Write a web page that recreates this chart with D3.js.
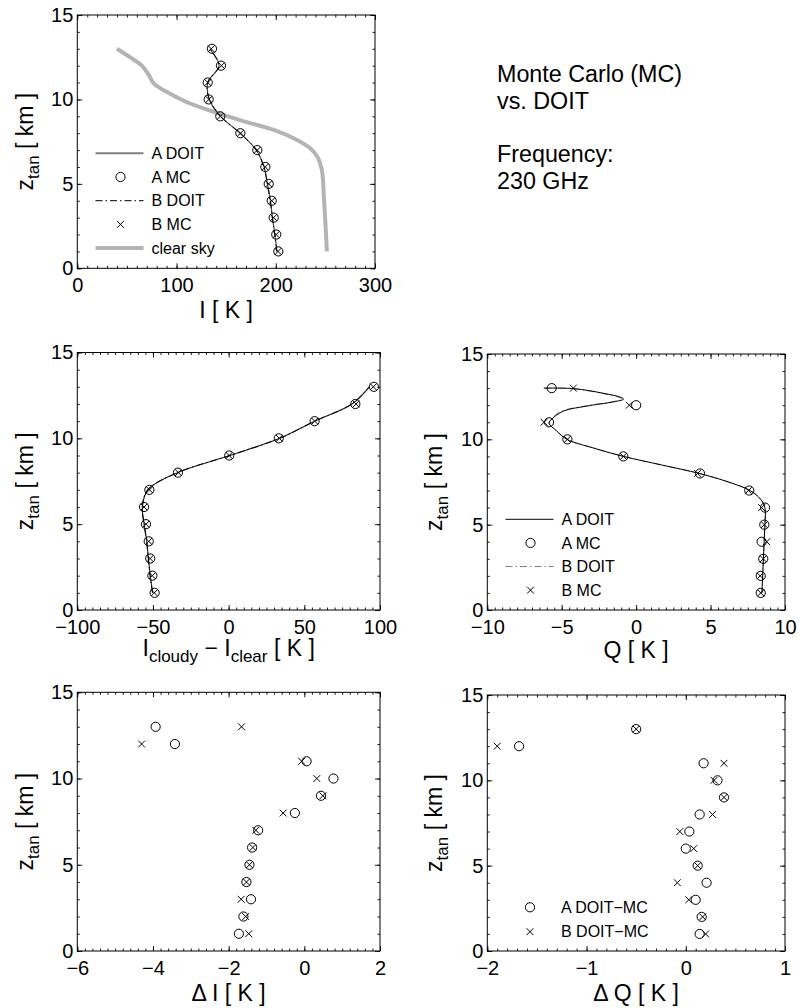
<!DOCTYPE html>
<html>
<head>
<meta charset="utf-8">
<script src="https://cdn.jsdelivr.net/npm/d3@7"></script>
<style>
  html, body { margin: 0; padding: 0; background: #fff; }
  svg { display: block; font-family: "Liberation Sans", Arial, Helvetica, sans-serif; }
</style>
</head>
<body>
<script>
// Tangent altitudes (km) of the simulated limb views
const zLevels = [1, 2, 3, 4, 5, 6, 7, 8, 9, 10, 11, 12, 13];

// Panel: cloudy-sky brightness temperature I [K]
const iMcA   = [202.6, 200.5, 197.9, 195.9, 192.9, 189.5, 181.4, 164.3, 144.1, 132.4, 131.4, 144.8, 135.7];
const iMcB   = [202.3, 200.4, 197.8, 196.0, 192.9, 189.4, 181.4, 164.5, 144.1, 132.6, 131.5, 145.3, 135.0];
const iDoitA = [201.2, 199.1, 196.7, 194.6, 191.6, 188.2, 180.4, 164.1, 144.4, 133.0, 131.5, 142.8, 133.5];
const iDoitB = [201.0, 199.0, 196.5, 194.5, 191.5, 188.1, 180.2, 164.0, 144.5, 133.1, 131.4, 142.6, 133.4];
// Clear-sky reference profile
const clearSkyZ = [13, 12.5, 12, 11.45, 10.95, 10.45, 9.85, 9.2, 8.7, 8.2, 7.7, 7.1, 6.6, 5.8, 4.2, 2.7, 1];
const clearSkyI = [40, 53, 65, 72, 77, 90, 110, 141, 168, 198, 218, 235, 242, 246.5, 248.5, 250, 251.5];

// Panel: I_cloudy - I_clear [K]
const dCloudMcA   = [-48.9, -50.4, -51.8, -52.8, -54.6, -55.9, -52.4, -33.5, 0.4, 33.1, 56.8, 83.7, 96.0];
const dCloudMcB   = [-49.1, -50.5, -51.9, -52.8, -54.6, -55.9, -52.3, -33.2, 0.3, 33.5, 56.9, 84.2, 95.6];
const dCloudDoitA = [-50.2, -51.8, -53.0, -54.1, -55.8, -57.0, -53.4, -33.8, 0.7, 33.7, 56.9, 81.5, 93.0];
const dCloudDoitB = [-50.3, -51.9, -53.1, -54.2, -55.9, -57.1, -53.5, -33.9, 0.8, 33.8, 56.8, 81.3, 92.8];

// Panel: Stokes Q [K]
const qMcA = [8.37, 8.37, 8.54, 8.43, 8.61, 8.66, 7.60, 4.29, -0.86, -4.62, -5.85, 0.0, -5.67];
const qMcB = [8.37, 8.33, 8.54, 8.77, 8.61, 8.43, 7.54, 4.13, -0.86, -4.62, -6.19, -0.46, -4.22];
// DOIT Q profiles (finer altitude grid)
const qDoitZ = [13, 12.97, 12.7, 12.45, 12.35, 12.2, 11.95, 11.65, 11.2, 10.95, 10.5, 10, 9.5, 9, 8.5, 8, 7.5, 7, 6.5, 6, 5, 4, 3, 2, 1];
const qDoitA = [-6.2, -4.2, -2.2, -1.0, -0.85, -1.5, -3.3, -4.9, -5.65, -5.85, -5.35, -4.65, -2.9, -0.85, 1.7, 4.25, 6.2, 7.65, 8.35, 8.65, 8.65, 8.6, 8.55, 8.5, 8.45];
const qDoitB = [-6.2, -4.2, -2.35, -1.1, -0.9, -1.6, -3.45, -5.0, -5.7, -5.85, -5.35, -4.65, -2.9, -0.85, 1.7, 4.25, 6.2, 7.65, 8.35, 8.65, 8.65, 8.6, 8.55, 8.5, 8.45];

// Panel: Delta I = DOIT - MC [K]
const deltaIA = [-1.73, -1.61, -1.41, -1.53, -1.45, -1.38, -1.22, -0.25, 0.44, 0.77, 0.06, -3.42, -3.93];
const deltaIB = [-1.47, -1.55, -1.67, -1.53, -1.45, -1.36, -1.28, -0.56, 0.49, 0.33, -0.07, -4.30, -1.66];

// Panel: Delta Q = DOIT - MC [K]
const deltaQA = [0.14, 0.16, 0.10, 0.21, 0.12, 0.0, 0.036, 0.14, 0.385, 0.32, 0.18, -1.68, -0.50];
const deltaQB = [0.20, 0.17, 0.03, -0.085, 0.12, 0.08, -0.06, 0.27, 0.385, 0.285, 0.385, -1.90, -0.50];

// Axis ticks and labels
const zTicks = [0, 5, 10, 15];
const zTickLabels = ["0", "5", "10", "15"];
const iTicks = [0, 100, 200, 300];
const iTickLabels = ["0", "100", "200", "300"];
const dCloudTicks = [-100, -50, 0, 50, 100];
const dCloudTickLabels = ["\u2212100", "\u221250", "0", "50", "100"];
const qTicks = [-10, -5, 0, 5, 10];
const qTickLabels = ["\u221210", "\u22125", "0", "5", "10"];
const deltaITicks = [-6, -4, -2, 0, 2];
const deltaITickLabels = ["\u22126", "\u22124", "\u22122", "0", "2"];
const deltaQTicks = [-2, -1, 0, 1];
const deltaQTickLabels = ["\u22122", "\u22121", "0", "1"];

const W = 801, H = 1008;
const svg = d3.select("body").append("svg").attr("width", W).attr("height", H);

const TICK_FONT = 20, LABEL_FONT = 23, SUB_FONT = 17, LEGEND_FONT = 16;
const DASHDOT = "7,3,1.5,3";

function pairs(xs, zs) { return xs.map((v, i) => [v, zs[i]]); }

function panel(p) {
  const x = d3.scaleLinear().domain(p.xDomain).range([p.left, p.right]);
  const y = d3.scaleLinear().domain([0, 15]).range([p.bottom, p.top]);
  const g = svg.append("g");

  const minorX = d3.range(p.xDomain[0], p.xDomain[1] + p.xMinor / 2, p.xMinor);
  const minorY = d3.range(0, 15.5, 1);

  const styleAxis = sel => {
    sel.select(".domain").remove();
    sel.attr("font-size", null).attr("font-family", null);
    sel.selectAll("line").attr("stroke", "#000").attr("stroke-width", 0.9);
    sel.selectAll("text").style("font-size", TICK_FONT + "px").attr("fill", "#000");
  };

  // minor ticks on all four sides
  g.append("g").attr("transform", `translate(0,${p.bottom})`)
    .call(d3.axisBottom(x).tickValues(minorX).tickSize(-2.5).tickSizeOuter(0).tickFormat("")).call(styleAxis);
  g.append("g").attr("transform", `translate(0,${p.top})`)
    .call(d3.axisTop(x).tickValues(minorX).tickSize(-2.5).tickSizeOuter(0).tickFormat("")).call(styleAxis);
  g.append("g").attr("transform", `translate(${p.left},0)`)
    .call(d3.axisLeft(y).tickValues(minorY).tickSize(-2.5).tickSizeOuter(0).tickFormat("")).call(styleAxis);
  g.append("g").attr("transform", `translate(${p.right},0)`)
    .call(d3.axisRight(y).tickValues(minorY).tickSize(-2.5).tickSizeOuter(0).tickFormat("")).call(styleAxis);

  // major ticks
  g.append("g").attr("transform", `translate(0,${p.bottom})`)
    .call(d3.axisBottom(x).tickValues(p.xTicks).tickSize(-5).tickSizeOuter(0).tickPadding(10)
      .tickFormat((d, i) => p.xTickLabels[i])).call(styleAxis);
  g.append("g").attr("transform", `translate(0,${p.top})`)
    .call(d3.axisTop(x).tickValues(p.xTicks).tickSize(-5).tickSizeOuter(0).tickFormat("")).call(styleAxis);
  g.append("g").attr("transform", `translate(${p.left},0)`)
    .call(d3.axisLeft(y).tickValues(zTicks).tickSize(-5).tickSizeOuter(0).tickPadding(4)
      .tickFormat((d, i) => zTickLabels[i])).call(styleAxis);
  g.append("g").attr("transform", `translate(${p.right},0)`)
    .call(d3.axisRight(y).tickValues(zTicks).tickSize(-5).tickSizeOuter(0).tickFormat("")).call(styleAxis);

  // frame
  g.append("rect").attr("x", p.left).attr("y", p.top)
    .attr("width", p.right - p.left).attr("height", p.bottom - p.top)
    .attr("fill", "none").attr("stroke", "#000").attr("stroke-width", 1);

  // y label: z_tan [ km ]
  const yl = g.append("text")
    .attr("transform", `translate(${p.left - p.yLabelOffset},${(p.top + p.bottom) / 2}) rotate(-90)`)
    .attr("text-anchor", "middle").style("font-size", LABEL_FONT + "px");
  yl.append("tspan").text("z");
  yl.append("tspan").attr("dy", 6).style("font-size", SUB_FONT + "px").text("tan");
  yl.append("tspan").attr("dy", -6).text(" [ km ]");

  // x label
  const xl = g.append("text")
    .attr("x", (p.left + p.right) / 2).attr("y", p.bottom + p.xLabelOffset)
    .attr("text-anchor", "middle").style("font-size", LABEL_FONT + "px");
  p.xLabel.forEach(part => {
    const t = xl.append("tspan").text(part.t);
    if (part.sub) t.attr("dy", 6).style("font-size", SUB_FONT + "px");
    if (part.back) t.attr("dy", -6);
  });

  const plot = g.append("g");
  return { x, y, g: plot };
}

const line = (sc, curve) => d3.line().x(d => sc.x(d[0])).y(d => sc.y(d[1]))
  .curve(curve || d3.curveCatmullRom.alpha(0.5));

function drawLine(sc, data, stroke, width, dash) {
  sc.g.append("path").datum(data).attr("d", line(sc))
    .attr("fill", "none").attr("stroke", stroke).attr("stroke-width", width)
    .attr("stroke-dasharray", dash || null);
}
function drawCircles(sc, data) {
  sc.g.selectAll(null).data(data).join("circle")
    .attr("cx", d => sc.x(d[0])).attr("cy", d => sc.y(d[1])).attr("r", 4.6)
    .attr("fill", "none").attr("stroke", "#000").attr("stroke-width", 1);
}
const CROSS = "M-3.4,-3.4L3.4,3.4M-3.4,3.4L3.4,-3.4";
function drawCrosses(sc, data) {
  sc.g.selectAll(null).data(data).join("path")
    .attr("transform", d => `translate(${sc.x(d[0])},${sc.y(d[1])})`)
    .attr("d", CROSS).attr("fill", "none").attr("stroke", "#000").attr("stroke-width", 1);
}

// legend helpers
function legend(entries, x0, y0, step) {
  const lg = svg.append("g");
  entries.forEach((e, i) => {
    const cy = y0 + i * step;
    if (e.kind === "line") {
      lg.append("line").attr("x1", x0).attr("x2", x0 + 48).attr("y1", cy).attr("y2", cy)
        .attr("stroke", e.stroke).attr("stroke-width", e.width).attr("stroke-dasharray", e.dash || null);
    } else if (e.kind === "circle") {
      lg.append("circle").attr("cx", x0 + 25).attr("cy", cy).attr("r", 4.6)
        .attr("fill", "none").attr("stroke", "#000").attr("stroke-width", 1);
    } else {
      lg.append("path").attr("transform", `translate(${x0 + 25},${cy})`).attr("d", CROSS)
        .attr("fill", "none").attr("stroke", "#000").attr("stroke-width", 1);
    }
    lg.append("text").attr("x", x0 + 56).attr("y", cy).attr("dy", "0.36em")
      .style("font-size", LEGEND_FONT + "px").text(e.label);
  });
}

// ---- Panel: I ----
const p1 = panel({
  left: 77.3, right: 375, top: 15, bottom: 268.3,
  xDomain: [0, 300], xTicks: iTicks, xTickLabels: iTickLabels, xMinor: 10,
  yLabelOffset: 44, xLabelOffset: 50,
  xLabel: [{ t: "I [ K ]" }]
});
drawLine(p1, pairs(clearSkyI, clearSkyZ), "#b4b4b4", 4);
drawLine(p1, pairs(iDoitA, zLevels), "#555", 1.2);
drawLine(p1, pairs(iDoitB, zLevels), "#000", 1, DASHDOT);
drawCircles(p1, pairs(iMcA, zLevels));
drawCrosses(p1, pairs(iMcB, zLevels));
legend([
  { kind: "line", stroke: "#808080", width: 2, label: "A DOIT" },
  { kind: "circle", label: "A MC" },
  { kind: "line", stroke: "#000", width: 1, dash: DASHDOT, label: "B DOIT" },
  { kind: "cross", label: "B MC" },
  { kind: "line", stroke: "#b4b4b4", width: 4, label: "clear sky" }
], 95.5, 153.3, 23.7);

// ---- Panel: I_cloudy - I_clear ----
const p2 = panel({
  left: 77.3, right: 380, top: 352.5, bottom: 610,
  xDomain: [-100, 100], xTicks: dCloudTicks, xTickLabels: dCloudTickLabels, xMinor: 5,
  yLabelOffset: 44, xLabelOffset: 46,
  xLabel: [{ t: "I" }, { t: "cloudy", sub: true }, { t: " \u2212 I", back: true },
           { t: "clear", sub: true }, { t: " [ K ]", back: true }]
});
drawLine(p2, pairs(dCloudDoitA, zLevels), "#222", 1.1);
drawLine(p2, pairs(dCloudDoitB, zLevels), "#000", 1, DASHDOT);
drawCircles(p2, pairs(dCloudMcA, zLevels));
drawCrosses(p2, pairs(dCloudMcB, zLevels));

// ---- Panel: Q ----
const p3 = panel({
  left: 487.3, right: 785, top: 354, bottom: 610,
  xDomain: [-10, 10], xTicks: qTicks, xTickLabels: qTickLabels, xMinor: 0.5,
  yLabelOffset: 45, xLabelOffset: 48,
  xLabel: [{ t: "Q [ K ]" }]
});
drawLine(p3, pairs(qDoitB, qDoitZ), "#808080", 1, DASHDOT);
drawLine(p3, pairs(qDoitA, qDoitZ), "#000", 1);
drawCircles(p3, pairs(qMcA, zLevels));
drawCrosses(p3, pairs(qMcB, zLevels));
legend([
  { kind: "line", stroke: "#000", width: 1, label: "A DOIT" },
  { kind: "circle", label: "A MC" },
  { kind: "line", stroke: "#808080", width: 1, dash: DASHDOT, label: "B DOIT" },
  { kind: "cross", label: "B MC" }
], 505.5, 519.3, 23.6);

// ---- Panel: Delta I ----
const p4 = panel({
  left: 77.3, right: 380, top: 692.3, bottom: 951,
  xDomain: [-6, 2], xTicks: deltaITicks, xTickLabels: deltaITickLabels, xMinor: 0.2,
  yLabelOffset: 44, xLabelOffset: 50,
  xLabel: [{ t: "\u0394 I [ K ]" }]
});
drawCircles(p4, pairs(deltaIA, zLevels));
drawCrosses(p4, pairs(deltaIB, zLevels));

// ---- Panel: Delta Q ----
const p5 = panel({
  left: 487.3, right: 785, top: 695, bottom: 951,
  xDomain: [-2, 1], xTicks: deltaQTicks, xTickLabels: deltaQTickLabels, xMinor: 0.1,
  yLabelOffset: 45, xLabelOffset: 50,
  xLabel: [{ t: "\u0394 Q [ K ]" }]
});
drawCircles(p5, pairs(deltaQA, zLevels));
drawCrosses(p5, pairs(deltaQB, zLevels));
legend([
  { kind: "circle", label: "A DOIT\u2212MC" },
  { kind: "cross", label: "B DOIT\u2212MC" }
], 505, 907.3, 24.4);

// ---- Annotation ----
const note = svg.append("g").style("font-size", "23.3px");
[["Monte Carlo (MC)", 82], ["vs. DOIT", 108.5], ["Frequency:", 162], ["230 GHz", 189]]
  .forEach(([t, yb]) => note.append("text").attr("x", 497).attr("y", yb).text(t));
</script>
</body>
</html>
